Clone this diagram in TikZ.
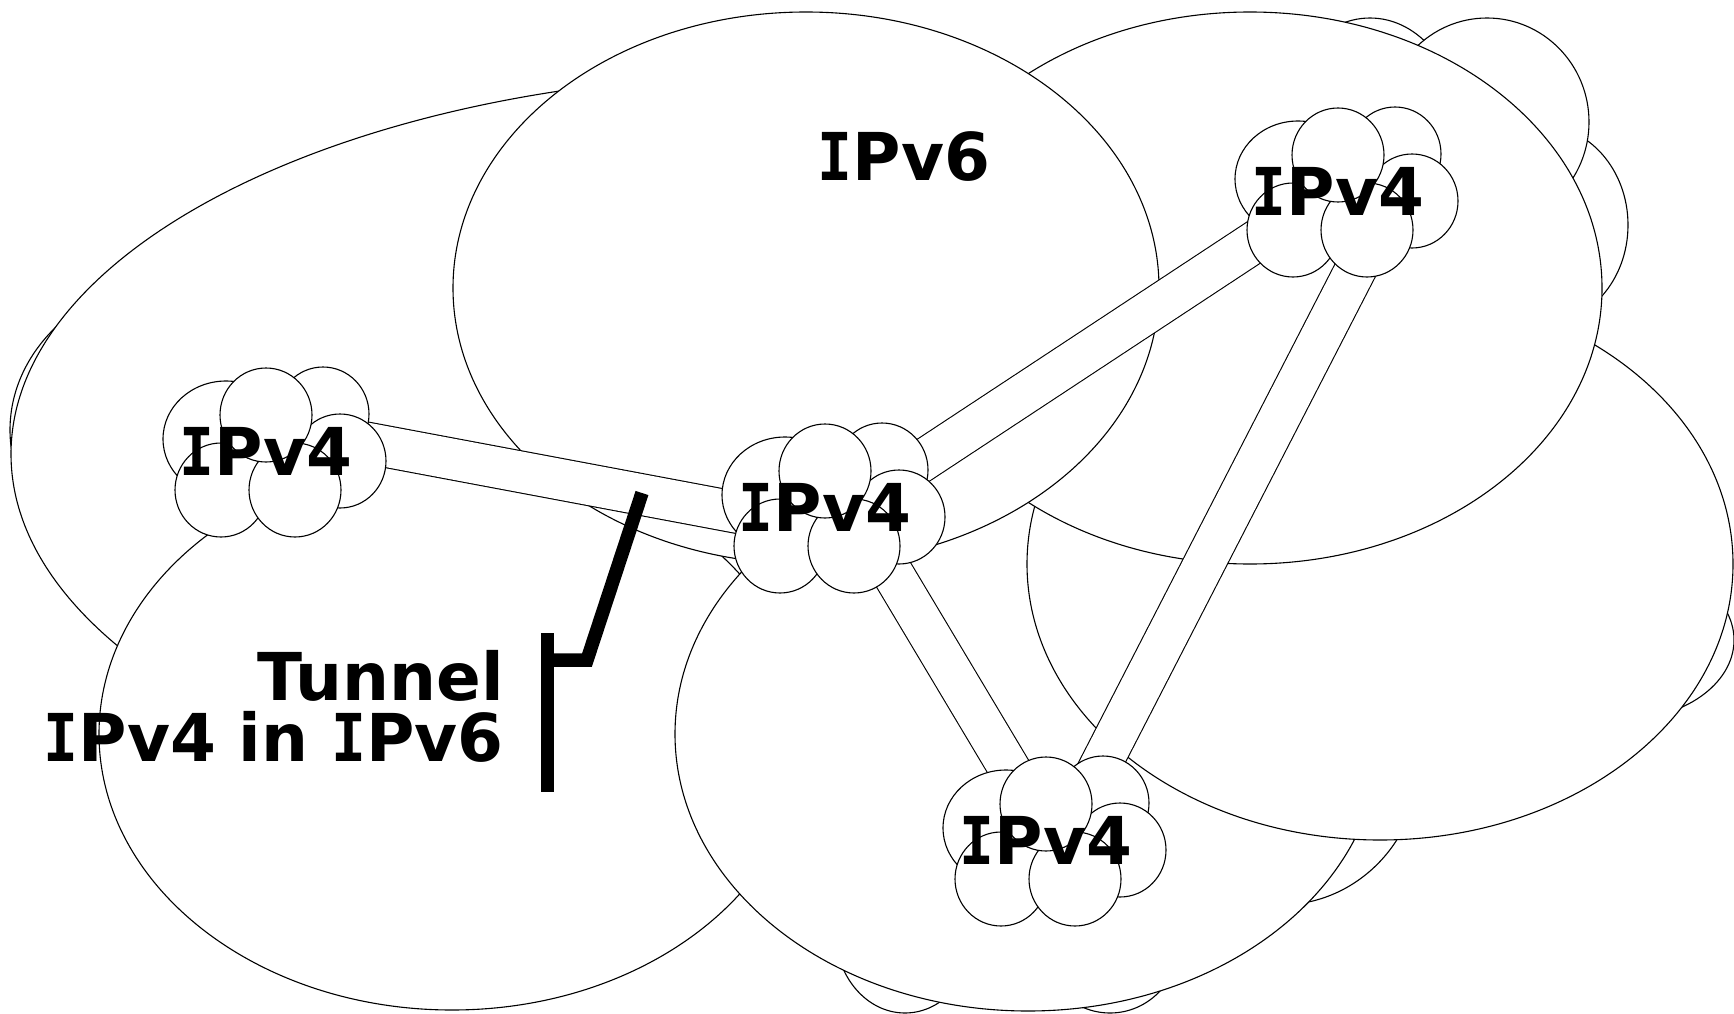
\documentclass[tikz,border=0pt]{standalone}
\usepackage{fontspec}
\setmainfont{DejaVu Sans}
\newfontfamily\slabface[FakeStretch=0.88]{DejaVu Sans Mono}
\newcommand\slabI{{\slabface I}}
\usetikzlibrary{calc}

\tikzset{
  puff/.style={draw=black, fill=white, line width=1.1pt},
  lbl/.style={font=\bfseries\fontsize{66}{79}\selectfont, inner sep=0pt},
  band/.style={draw=black, line width=1.1pt, double=white, double distance=40.5pt},
  tunnelmark/.style={draw=black, line width=13.5pt, line join=miter},
  % a small IPv4 cloud made of six overlapping puffs
  pics/vfourcloud/.style={code={
    \path[puff] (-40,-12) ellipse [x radius=63, y radius=58];
    \path[puff] (57,-37) ellipse [x radius=46, y radius=47];
    \path[puff] (74,10) ellipse [x radius=46, y radius=47];
    \path[puff] (-45,39) ellipse [x radius=46, y radius=47];
    \path[puff] (29,39) ellipse [x radius=46, y radius=47];
    \path[puff] (0,-36) ellipse [x radius=46, y radius=47];
  }}
}

\begin{document}
\begin{tikzpicture}[x=1pt, y=-1pt]
\useasboundingbox (0,0) rectangle (1734,1014);
\fill[white] (0,0) rectangle (1734,1014);

% small puffs behind the big IPv6 cloud
\path[puff] (200,430) ellipse [x radius=190, y radius=158];
\path[puff] (1370,130) ellipse [x radius=90, y radius=112];
\path[puff] (1540,225) ellipse [x radius=88, y radius=100];
\path[puff] (1487,122) ellipse [x radius=102, y radius=104];
\path[puff] (1620,640) ellipse [x radius=114, y radius=80];
\path[puff] (905,930) ellipse [x radius=70, y radius=83];
\path[puff] (1110,940) ellipse [x radius=70, y radius=73];
\path[puff] (1280,760) ellipse [x radius=140, y radius=145];

% big lobes of the IPv6 cloud, back to front
\path[puff] (791,454) ellipse [x radius=780, y radius=380];
\path[puff] (452,734) ellipse [x radius=353, y radius=276];
\path[puff] (1028,734) ellipse [x radius=353, y radius=277];
\path[puff] (1380,564) ellipse [x radius=353, y radius=276];
\path[puff] (1250,288) ellipse [x radius=352, y radius=276];
\path[puff] (806,288) ellipse [x radius=353, y radius=276];

\node[lbl] (v6) at (904,157) {\slabI Pv6};

% IPv4 islands: positions of their labels
\coordinate (pL) at (266,451);
\coordinate (pC) at (825,507);
\coordinate (pT) at (1338,191);
\coordinate (pB) at (1046,840);

% tunnels between the islands
\draw[band] ($(pL)+(0,-27)$) -- ($(pC)+(0,22)$);
\draw[band] ($(pC)+(0,18)$) -- ($(pT)+(0,-4)$);
\draw[band] ($(pT)+(58,0)$) -- ($(pB)+(16,0)$);
\draw[band] ($(pC)+(28,0)$) -- ($(pB)+(6,0)$);

% the islands themselves
\pic at (pL) {vfourcloud};
\pic at (pC) {vfourcloud};
\pic at (pT) {vfourcloud};
\pic at (pB) {vfourcloud};
\node[lbl] (L4) at (pL) {\slabI Pv4};
\node[lbl] (C4) at (pC) {\slabI Pv4};
\node[lbl] (T4) at (pT) {\slabI Pv4};
\node[lbl] (B4) at (pB) {\slabI Pv4};

% tunnel callout
\node[lbl, anchor=base east] (tun) at (504,700) {Tunnel};
\node[lbl, anchor=base east] (tun2) at (504,761) {\slabI Pv4 in \slabI Pv6};
\coordinate (tipT) at (642,493);
\coordinate (kneeT) at (587,660);
\coordinate (footT) at (548,660);
\coordinate (barTop) at (547.5,633);
\coordinate (barBot) at (547.5,792);
\draw[tunnelmark] (tipT) -- (kneeT) -- (footT);
\draw[tunnelmark] (barTop) -- (barBot);
\end{tikzpicture}
\end{document}
